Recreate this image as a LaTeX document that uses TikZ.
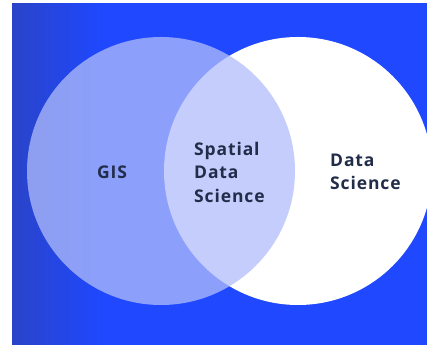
\documentclass[tikz,border=0pt]{standalone}
\usepackage{fontspec}
\setmainfont{Open Sans}[LetterSpace=5]
\usetikzlibrary{positioning}
\definecolor{venn blue}{HTML}{1F48FF}
\definecolor{venn dark}{HTML}{2A44C8}
\definecolor{venn tint}{HTML}{B1BDFA}
\definecolor{label navy}{HTML}{222D4A}

\begin{document}
\begin{tikzpicture}[x=1pt, y=1pt]
            \tikzset{set/.style={circle, inner sep=0pt, minimum size=268pt}}
            \tikzset{setname/.style={text=label navy, font={\fontsize{17.5}{23.5}\selectfont\bfseries}, align=left, inner sep=0pt}}
            \useasboundingbox[fill=white] (0, 0) rectangle (427, 347);
            \clip (0, 0) rectangle (427, 347);
            \fill[venn blue] (12, 2) rectangle (427, 344);
            % darker band on the left
            \foreach \i in {0,...,44}
                \fill[venn dark!\fpeval{100-100*\i/45}!venn blue] (12+2*\i, 2) rectangle (14.5+2*\i, 344);
            \node[set, fill=white] (ds) at (298, 176) {};
            \node[set, fill=venn tint, fill opacity=0.75] (gis) at (161, 176) {};

            \node[setname] (gisname) at (112, 175) {GIS};
            \node[setname, anchor=west] (sdsname) at (194, 175) {Spatial\\Data\\Science};
            \node[setname, anchor=west] (dsname) at (330, 175) {Data\\Science};
        \end{tikzpicture}
\end{document}
